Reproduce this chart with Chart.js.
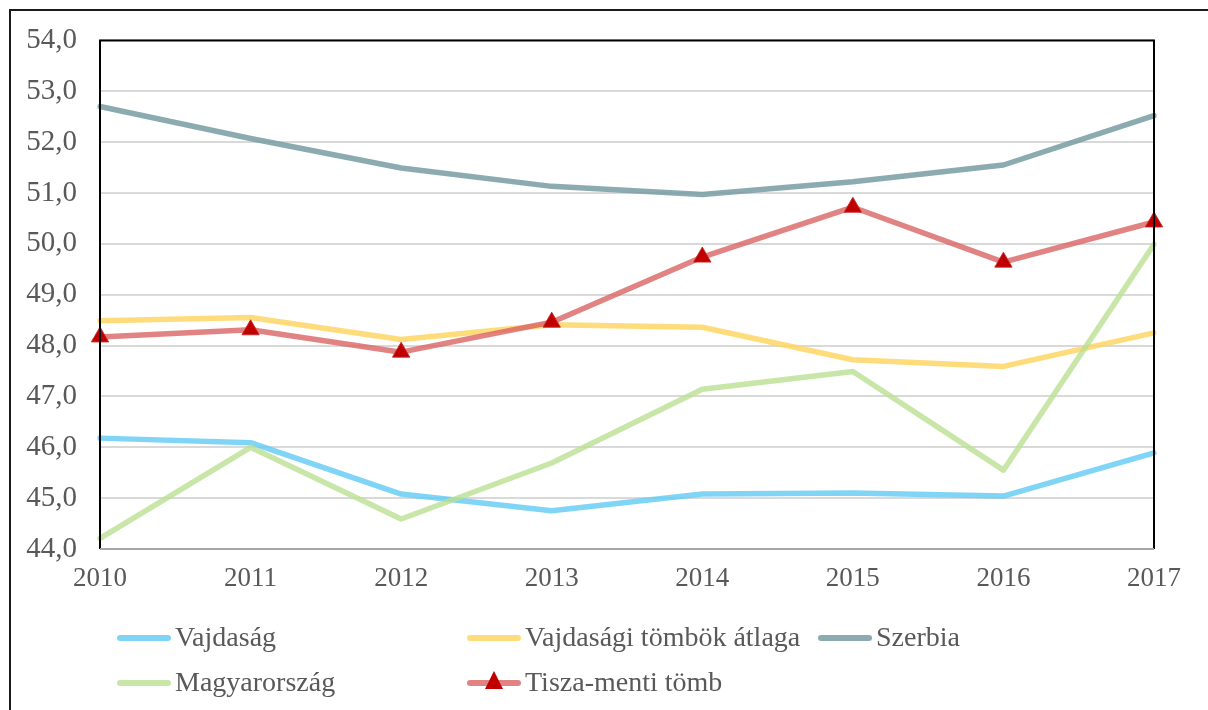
<!DOCTYPE html>
<html>
<head>
<meta charset="utf-8">
<script src="https://cdn.jsdelivr.net/npm/chart.js@4/dist/chart.umd.min.js"></script>
<style>
  html, body { margin: 0; padding: 0; background: #fff; }
  #wrap { position: relative; width: 1208px; height: 710px; overflow: hidden; }
  #c { position: absolute; left: 0; top: 0; }
  #frame { position: absolute; left: 9px; top: 9px; width: 1400px; height: 900px;
           border-left: 2px solid #1a1a1a; border-top: 2px solid #1a1a1a; pointer-events: none; }
  .lg { position: absolute; font-family: "Liberation Serif", "Times New Roman", serif;
        font-size: 28px; color: #595959; white-space: nowrap; line-height: 1; }
  .lg .sw { position: absolute; left: 0; top: 50%; height: 6px; width: 54px; margin-top: -3px; border-radius: 3px; }
  .lg .tri { position: absolute; left: 18px; top: 50%; margin-top: -12px; width: 0; height: 0;
             border-left: 9px solid transparent; border-right: 9px solid transparent; border-bottom: 18px solid #c00000; }
  .lg .tx { position: absolute; left: 58px; top: 50%; transform: translateY(-52%); }
</style>
</head>
<body>
<div id="wrap">
  <canvas id="c" width="1208" height="710"></canvas>
  <div id="frame"></div>
  <div id="legend"></div>
</div>
<script>
const years = ['2010','2011','2012','2013','2014','2015','2016','2017'];
const seriesNames = ['Vajdaság','Vajdasági tömbök átlaga','Szerbia','Magyarország','Tisza-menti tömb'];
const vajdasag      = [46.18, 46.09, 45.08, 44.75, 45.08, 45.10, 45.04, 45.89];
const tombokAtlaga  = [48.49, 48.55, 48.12, 48.41, 48.36, 47.72, 47.59, 48.25];
const szerbia       = [52.70, 52.07, 51.49, 51.13, 50.97, 51.22, 51.55, 52.52];
const magyarorszag  = [44.21, 46.00, 44.59, 45.69, 47.14, 47.49, 45.55, 49.99];
const tiszaMenti    = [48.17, 48.31, 47.87, 48.46, 49.74, 50.72, 49.64, 50.43];
const yMin = 44, yMax = 54, yStep = 1;

const colors = ['rgba(100,204,245,0.82)','rgba(255,214,100,0.85)','rgba(120,156,163,0.85)','rgba(186,224,145,0.8)','rgba(218,100,100,0.8)'];
const values = [vajdasag, tombokAtlaga, szerbia, magyarorszag, tiszaMenti];
const orders = [3, 4, 2, 1, 0];

const datasets = seriesNames.map((name, i) => ({
  label: name,
  data: values[i],
  borderColor: colors[i],
  backgroundColor: colors[i],
  borderWidth: 5.5,
  tension: 0,
  order: orders[i],
  pointRadius: i === 4 ? 10 : 0,
  pointStyle: 'triangle',
  pointBackgroundColor: '#c00000',
  pointBorderColor: 'rgba(200,40,40,0.9)',
  pointBorderWidth: 1,
  borderCapStyle: 'round',
  borderJoinStyle: 'round'
}));

const frameBox = {
  id: 'frameBox',
  afterDraw(chart) {
    const { ctx, chartArea: a } = chart;
    ctx.save();
    ctx.strokeStyle = '#000';
    ctx.lineWidth = 2;
    ctx.beginPath();
    ctx.moveTo(a.left, a.bottom);
    ctx.lineTo(a.left, a.top);
    ctx.lineTo(a.right, a.top);
    ctx.lineTo(a.right, a.bottom);
    ctx.stroke();
    ctx.strokeStyle = '#a6a6a6';
    ctx.beginPath();
    ctx.moveTo(a.left, a.bottom);
    ctx.lineTo(a.right, a.bottom);
    ctx.stroke();
    ctx.restore();
  }
};

const font = { family: '"Liberation Serif", "Times New Roman", serif', size: 27 };

const chart = new Chart(document.getElementById('c'), {
  type: 'line',
  data: { labels: years, datasets },
  options: {
    responsive: false,
    animation: false,
    layout: { padding: { left: 0, right: 54, top: 38, bottom: 0 } },
    plugins: { legend: { display: false }, tooltip: { enabled: false } },
    scales: {
      x: {
        offset: false,
        grid: { display: false, drawTicks: false },
        border: { display: false },
        ticks: { color: '#595959', font, padding: 14, maxRotation: 0 },
        afterFit(s) { s.height = 161; }
      },
      y: {
        min: yMin, max: yMax,
        grid: { color: '#d9d9d9', lineWidth: 2, drawTicks: false },
        border: { display: false },
        ticks: {
          stepSize: yStep, color: '#595959', font: { ...font, size: 29 }, padding: 23,
          callback: v => v.toFixed(1).replace('.', ',')
        },
        afterFit(s) { s.width = 100; }
      }
    }
  },
  plugins: [frameBox]
});

// HTML legend built from the datasets
const legendEl = document.getElementById('legend');
const colX = [117, 467, 818];
const rowY = [638, 683];
chart.data.datasets.forEach((ds, i) => {
  const item = document.createElement('div');
  item.className = 'lg';
  item.style.left = colX[i % 3] + 'px';
  item.style.top = (rowY[Math.floor(i / 3)] - 15) + 'px';
  item.style.height = '30px';
  item.style.width = '400px';
  const sw = document.createElement('div');
  sw.className = 'sw';
  sw.style.background = ds.borderColor;
  item.appendChild(sw);
  if (ds.pointRadius > 0) {
    const t = document.createElement('div');
    t.className = 'tri';
    item.appendChild(t);
  }
  const tx = document.createElement('span');
  tx.className = 'tx';
  tx.textContent = ds.label;
  item.appendChild(tx);
  legendEl.appendChild(item);
});
</script>
</body>
</html>
